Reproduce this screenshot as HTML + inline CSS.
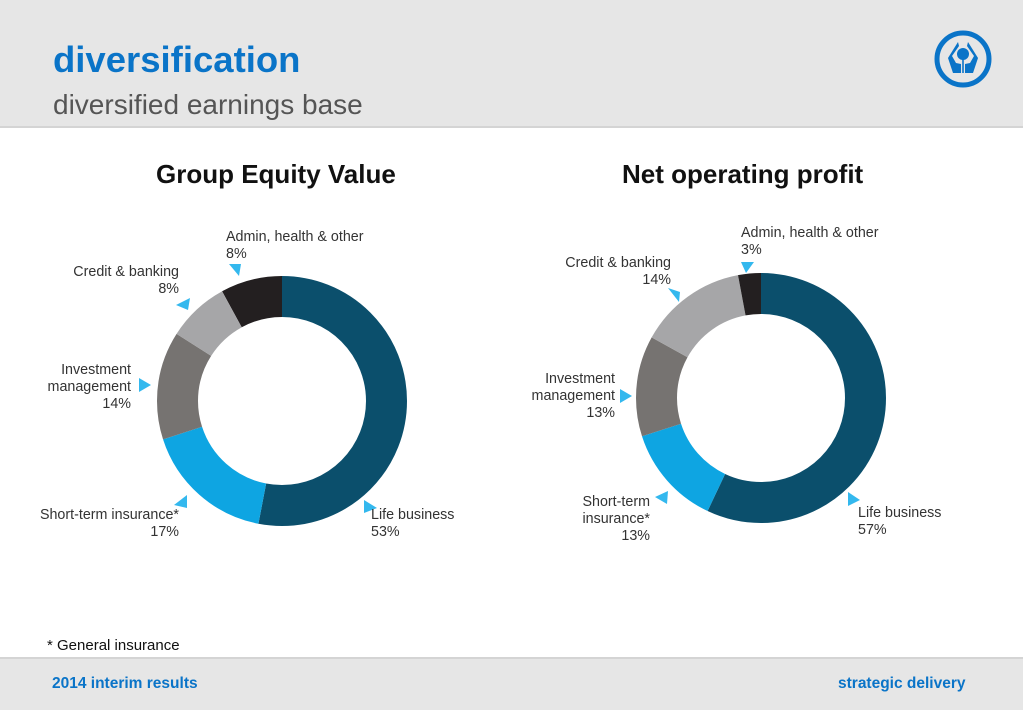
<html><head><style>
body{margin:0;width:1023px;height:708px;position:relative;background:#fff;font-family:"Liberation Sans",Arial,sans-serif;overflow:hidden}
.hdr{position:absolute;left:0;top:0;width:1023px;height:126px;background:#e6e6e6;border-bottom:2px solid #d4d4d4}
.ftr{position:absolute;left:0;top:657px;width:1023px;height:51px;background:#e6e6e6;border-top:2px solid #d4d4d4}
.t{position:absolute;white-space:nowrap}
.l{position:absolute;font-size:14.3px;color:#333;line-height:17px;white-space:nowrap}
</style></head><body>
<div class="hdr"></div><div class="ftr"></div>
<div class="t" style="left:53px;top:39px;font-size:36.5px;font-weight:bold;color:#0a74c8">diversification</div>
<div class="t" style="left:53px;top:89px;font-size:28px;color:#555">diversified earnings base</div>
<svg style="position:absolute;left:930px;top:26px" width="66" height="66" viewBox="0 0 66 66">
<circle cx="33" cy="33" r="26" fill="none" stroke="#0a74c8" stroke-width="5"/>
<path d="M28 16 L18 32 L23 47 L31 47 L31 38 L26 37 L22 30 L29 20 Z" fill="#0a74c8"/>
<path d="M38 16 L48 32 L43 47 L35 47 L35 38 L40 37 L44 30 L37 20 Z" fill="#0a74c8"/>
<circle cx="33" cy="28" r="6" fill="#0a74c8"/>
<rect x="32.2" y="33" width="1.6" height="14" fill="#0a74c8"/>
</svg>
<div class="t" style="left:156px;top:159px;font-size:26px;font-weight:bold;color:#111">Group Equity Value</div>
<div class="t" style="left:622px;top:159px;font-size:26px;font-weight:bold;color:#111">Net operating profit</div>
<svg style="position:absolute;left:0;top:0" width="1023" height="708">
<g transform="translate(282,401) rotate(-90)" fill="none" stroke-width="41">
<circle r="104.5" stroke="#0b4f6c" stroke-dasharray="348 1000" stroke-dashoffset="0"/>
<circle r="104.5" stroke="#0ea5e2" stroke-dasharray="111.6 1000" stroke-dashoffset="-348"/>
<circle r="104.5" stroke="#767371" stroke-dasharray="91.9 1000" stroke-dashoffset="-459.6"/>
<circle r="104.5" stroke="#a6a6a8" stroke-dasharray="52.5 1000" stroke-dashoffset="-551.5"/>
<circle r="104.5" stroke="#231f20" stroke-dasharray="52.5 1000" stroke-dashoffset="-604.1"/>
</g>
<g transform="translate(761,398) rotate(-90)" fill="none" stroke-width="41">
<circle r="104.5" stroke="#0b4f6c" stroke-dasharray="374.3 1000" stroke-dashoffset="0"/>
<circle r="104.5" stroke="#0ea5e2" stroke-dasharray="85.4 1000" stroke-dashoffset="-374.3"/>
<circle r="104.5" stroke="#767371" stroke-dasharray="85.4 1000" stroke-dashoffset="-459.7"/>
<circle r="104.5" stroke="#a6a6a8" stroke-dasharray="91.9 1000" stroke-dashoffset="-545.1"/>
<circle r="104.5" stroke="#231f20" stroke-dasharray="19.7 1000" stroke-dashoffset="-637"/>
</g>
<g fill="#33b8ee">
<polygon points="229,264 241,264 239,276"/>
<polygon points="176,305 190,298 188,310"/>
<polygon points="139,378 151,385 139,392"/>
<polygon points="174,505 187,495 187,508"/>
<polygon points="364,500 377,508 364,513"/>
<polygon points="741,262 754,262 746,273"/>
<polygon points="668,288 680,292 679,302"/>
<polygon points="620,389 632,396 620,403"/>
<polygon points="655,497 668,491 667,504"/>
<polygon points="848,492 860,500 848,506"/>
</g>
</svg>
<div class="l" style="left:226px;top:229px">Admin, health &amp; other<br>8%</div>
<div class="l" style="left:62px;top:264px;text-align:right;width:117px">Credit &amp; banking<br>8%</div>
<div class="l" style="left:30px;top:362px;text-align:right;width:101px">Investment<br>management<br>14%</div>
<div class="l" style="left:20px;top:507px;text-align:right;width:159px">Short-term insurance*<br>17%</div>
<div class="l" style="left:371px;top:507px">Life business<br>53%</div>
<div class="l" style="left:741px;top:225px">Admin, health &amp; other<br>3%</div>
<div class="l" style="left:550px;top:255px;text-align:right;width:121px">Credit &amp; banking<br>14%</div>
<div class="l" style="left:510px;top:371px;text-align:right;width:105px">Investment<br>management<br>13%</div>
<div class="l" style="left:560px;top:494px;text-align:right;width:90px">Short-term<br>insurance*<br>13%</div>
<div class="l" style="left:858px;top:505px">Life business<br>57%</div>
<div class="t" style="left:47px;top:637px;font-size:15px;color:#111">* General insurance</div>
<div class="t" style="left:52px;top:675px;font-size:15.5px;font-weight:bold;color:#0a74c8">2014 interim results</div>
<div class="t" style="left:838px;top:675px;font-size:15.5px;font-weight:bold;color:#0a74c8">strategic delivery</div>
</body></html>
